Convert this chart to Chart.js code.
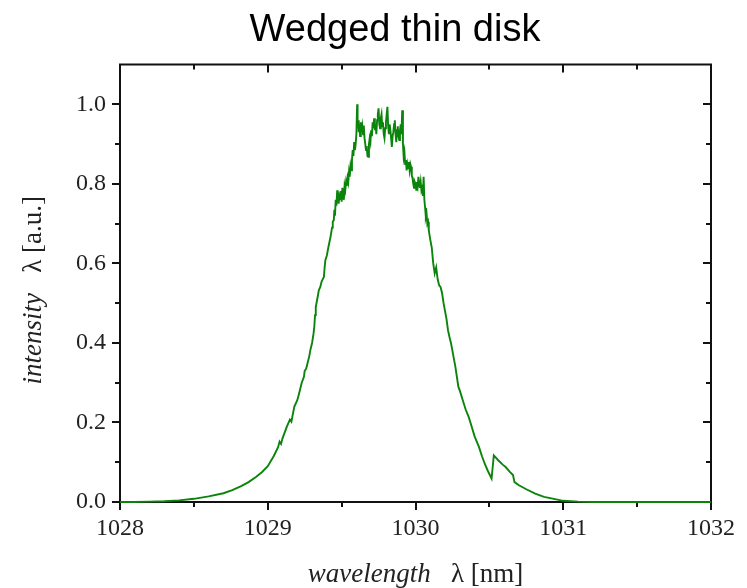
<!DOCTYPE html>
<html>
<head>
<meta charset="utf-8">
<script src="https://cdn.jsdelivr.net/npm/chart.js@4.4.1/dist/chart.umd.min.js"></script>
<style>
  html, body { margin: 0; padding: 0; background: #fff; }
  #wrap { width: 747px; height: 588px; position: relative; }
</style>
</head>
<body>
<div id="wrap"><canvas id="c" width="747" height="588"></canvas></div>
<script>
const chartTitle = 'Wedged thin disk';
const xTitleItalic = 'wavelength';
const xTitleRest = '   λ [nm]';
const yTitleItalic = 'intensity';
const yTitleRest = '   λ [a.u.]';

const xMin = 1028, xMax = 1032, xMajorStep = 1, xMinorStep = 0.5;
const yMin = 0, yMax = 1.1, yMajorStep = 0.2, yMinorStep = 0.1;

// rising edge
const riseWavelength = [
  1028.00, 1028.10, 1028.20, 1028.30, 1028.40, 1028.50, 1028.60, 1028.70, 1028.76, 1028.82,
  1028.87, 1028.92, 1028.96, 1029.00, 1029.04, 1029.07, 1029.08, 1029.09, 1029.10, 1029.13,
  1029.15, 1029.16, 1029.18, 1029.20, 1029.21, 1029.22, 1029.23, 1029.245, 1029.25, 1029.26,
  1029.27, 1029.28, 1029.29, 1029.30, 1029.31, 1029.315, 1029.32, 1029.325, 1029.335, 1029.346,
  1029.355, 1029.365, 1029.38, 1029.385, 1029.39, 1029.40, 1029.41, 1029.425
];
const riseIntensity = [
  0.000, 0.000, 0.001, 0.002, 0.004, 0.008, 0.014, 0.022, 0.030, 0.040,
  0.050, 0.063, 0.075, 0.090, 0.115, 0.138, 0.152, 0.146, 0.160, 0.190,
  0.207, 0.202, 0.240, 0.256, 0.270, 0.285, 0.300, 0.315, 0.330, 0.335,
  0.350, 0.365, 0.385, 0.400, 0.424, 0.440, 0.470, 0.490, 0.510, 0.533,
  0.540, 0.555, 0.566, 0.590, 0.608, 0.620, 0.640, 0.667
];

// noisy top
const peakWavelength = [
  1029.435, 1029.440, 1029.447, 1029.451, 1029.455, 1029.460, 1029.465, 1029.470, 1029.473, 1029.476,
  1029.480, 1029.485, 1029.490, 1029.495, 1029.500, 1029.505, 1029.510, 1029.515, 1029.520, 1029.525,
  1029.530, 1029.535, 1029.540, 1029.545, 1029.550, 1029.555, 1029.560, 1029.565, 1029.570, 1029.575,
  1029.580, 1029.585, 1029.590, 1029.595, 1029.600, 1029.605, 1029.608, 1029.612, 1029.616, 1029.620,
  1029.625, 1029.630, 1029.635, 1029.640, 1029.645, 1029.650, 1029.655, 1029.660, 1029.665, 1029.670,
  1029.675, 1029.680, 1029.685, 1029.690, 1029.695, 1029.700, 1029.705, 1029.710, 1029.715, 1029.720,
  1029.725, 1029.730, 1029.735, 1029.740, 1029.745, 1029.750, 1029.755, 1029.760, 1029.765, 1029.770,
  1029.775, 1029.780, 1029.785, 1029.790, 1029.795, 1029.800, 1029.805, 1029.810, 1029.815, 1029.820,
  1029.825, 1029.830, 1029.835, 1029.840, 1029.845, 1029.850, 1029.855, 1029.860, 1029.865, 1029.870,
  1029.875, 1029.880, 1029.885, 1029.890, 1029.895, 1029.900, 1029.905, 1029.910, 1029.915, 1029.920,
  1029.925, 1029.930, 1029.935, 1029.940, 1029.945, 1029.950, 1029.955, 1029.960, 1029.965, 1029.970,
  1029.975, 1029.980, 1029.985, 1029.990, 1029.995, 1030.000, 1030.005, 1030.010, 1030.015, 1030.020,
  1030.025, 1030.030, 1030.035, 1030.040, 1030.045, 1030.050, 1030.055, 1030.060, 1030.065, 1030.070,
  1030.075, 1030.080, 1030.085, 1030.090
];
const peakIntensity = [
  0.690, 0.705, 0.709, 0.735, 0.720, 0.760, 0.745, 0.784, 0.760, 0.778,
  0.750, 0.770, 0.762, 0.782, 0.755, 0.790, 0.772, 0.760, 0.795, 0.785,
  0.805, 0.795, 0.815, 0.805, 0.830, 0.818, 0.845, 0.834, 0.860, 0.885,
  0.870, 0.905, 0.885, 0.900, 0.925, 1.000, 0.945, 0.960, 0.930, 0.950,
  0.920, 0.955, 0.930, 0.945, 0.925, 0.947, 0.915, 0.900, 0.885, 0.895,
  0.870, 0.868, 0.900, 0.915, 0.905, 0.935, 0.920, 0.955, 0.940, 0.965,
  0.935, 0.950, 0.925, 0.960, 0.975, 0.990, 0.950, 0.940, 0.965, 0.975,
  0.945, 0.955, 0.925, 0.915, 0.940, 0.955, 0.975, 0.994, 0.945, 0.925,
  0.950, 0.935, 0.915, 0.893, 0.920, 0.930, 0.950, 0.960, 0.925, 0.905,
  0.935, 0.945, 0.920, 0.910, 0.935, 0.950, 0.925, 0.985, 0.900, 0.868,
  0.880, 0.850, 0.860, 0.834, 0.850, 0.840, 0.855, 0.835, 0.850, 0.843,
  0.820, 0.815, 0.800, 0.790, 0.805, 0.800, 0.785, 0.805, 0.795, 0.818,
  0.800, 0.790, 0.805, 0.784, 0.790, 0.770, 0.818, 0.760, 0.740, 0.717,
  0.725, 0.700, 0.705, 0.683
];

// falling edge
const fallWavelength = [
  1030.10, 1030.11, 1030.12, 1030.13, 1030.14, 1030.15, 1030.16, 1030.17, 1030.18, 1030.19,
  1030.20, 1030.21, 1030.22, 1030.23, 1030.24, 1030.25, 1030.26, 1030.27, 1030.28, 1030.29,
  1030.30, 1030.32, 1030.34, 1030.36, 1030.38, 1030.40, 1030.43, 1030.45, 1030.47, 1030.49,
  1030.515, 1030.53, 1030.56, 1030.59, 1030.61, 1030.64, 1030.66, 1030.67, 1030.70, 1030.75,
  1030.81, 1030.87, 1030.92, 1031.00, 1031.10, 1031.20, 1031.50, 1032.00
];
const fallIntensity = [
  0.660, 0.640, 0.600, 0.575, 0.590, 0.560, 0.545, 0.540, 0.525, 0.500,
  0.480, 0.460, 0.432, 0.415, 0.400, 0.380, 0.360, 0.340, 0.315, 0.290,
  0.280, 0.256, 0.232, 0.214, 0.190, 0.165, 0.138, 0.115, 0.095, 0.078,
  0.059, 0.117, 0.105, 0.094, 0.088, 0.075, 0.068, 0.050, 0.042, 0.032,
  0.021, 0.013, 0.009, 0.003, 0.001, 0.000, 0.000, 0.000
];

const wavelength = riseWavelength.concat(peakWavelength, fallWavelength);
const intensity = riseIntensity.concat(peakIntensity, fallIntensity);
const points = wavelength.map((w, i) => ({ x: w, y: intensity[i] }));

const serif = '"Liberation Serif", "Times New Roman", serif';
const sans = '"Liberation Sans", Arial, sans-serif';

const framePlugin = {
  id: 'frame',
  beforeDatasetsDraw(chart) {
    const ctx = chart.ctx;
    const { left, right, top, bottom } = chart.chartArea;
    const xs = chart.scales.x, ys = chart.scales.y;
    ctx.save();
    ctx.strokeStyle = '#111';
    ctx.lineWidth = 2;
    ctx.beginPath();
    ctx.rect(left, top, right - left, bottom - top);
    ctx.stroke();
    ctx.beginPath();
    const nx = Math.round((xMax - xMin) / xMinorStep);
    for (let i = 0; i <= nx; i++) {
      const v = xMin + i * xMinorStep;
      const px = Math.round(xs.getPixelForValue(v));
      const major = Math.abs(v / xMajorStep - Math.round(v / xMajorStep)) < 1e-6;
      const len = major ? 8 : 5;
      ctx.moveTo(px, bottom); ctx.lineTo(px, bottom + len);
      ctx.moveTo(px, top); ctx.lineTo(px, top + len);
    }
    const ny = Math.round((1.0 - yMin) / yMinorStep);
    for (let i = 0; i <= ny; i++) {
      const v = yMin + i * yMinorStep;
      const py = Math.round(ys.getPixelForValue(v));
      const major = i % 2 === 0;
      const len = major ? 8 : 5;
      ctx.moveTo(left, py); ctx.lineTo(left - len, py);
      ctx.moveTo(right, py); ctx.lineTo(right - len, py);
    }
    ctx.stroke();
    ctx.restore();
  },
  afterDraw(chart) {
    const ctx = chart.ctx;
    const { left, right, top, bottom } = chart.chartArea;
    ctx.save();
    ctx.fillStyle = '#222';
    ctx.textBaseline = 'alphabetic';
    const fi = 'italic 27px ' + serif, fr = '27px ' + serif;
    ctx.font = fi; const w1 = ctx.measureText(xTitleItalic).width;
    ctx.font = fr; const w2 = ctx.measureText(xTitleRest).width;
    const x0 = (left + right) / 2 - (w1 + w2) / 2;
    const yb = 582;
    ctx.font = fi; ctx.fillText(xTitleItalic, x0, yb);
    ctx.font = fr; ctx.fillText(xTitleRest, x0 + w1, yb);
    ctx.font = fi; const v1 = ctx.measureText(yTitleItalic).width;
    ctx.font = fr; const v2 = ctx.measureText(yTitleRest).width;
    ctx.translate(41, (top + bottom) / 2 + 7);
    ctx.rotate(-Math.PI / 2);
    const s0 = -(v1 + v2) / 2;
    ctx.font = fi; ctx.fillText(yTitleItalic, s0, 0);
    ctx.font = fr; ctx.fillText(yTitleRest, s0 + v1, 0);
    ctx.restore();
  }
};

new Chart(document.getElementById('c'), {
  type: 'line',
  data: {
    datasets: [{
      data: points,
      borderColor: '#0b840b',
      borderWidth: 1.9,
      pointRadius: 0,
      tension: 0,
      fill: false,
      clip: false
    }]
  },
  options: {
    responsive: false,
    animation: false,
    layout: { padding: { left: 76, right: 33, top: 0, bottom: 0 } },
    plugins: {
      legend: { display: false },
      tooltip: { enabled: false },
      title: {
        display: true,
        text: chartTitle,
        color: '#000',
        font: { family: sans, size: 38, weight: 'normal' },
        padding: { top: 8, bottom: 11 }
      }
    },
    scales: {
      x: {
        type: 'linear',
        min: xMin, max: xMax,
        border: { display: false },
        grid: { display: false, drawTicks: false },
        ticks: {
          stepSize: xMajorStep,
          padding: 12,
          color: '#222',
          font: { family: serif, size: 24 },
          maxRotation: 0,
          callback: v => String(v)
        },
        afterFit: s => { s.height = 86; }
      },
      y: {
        type: 'linear',
        min: yMin, max: yMax,
        border: { display: false },
        grid: { display: false, drawTicks: false },
        ticks: {
          stepSize: yMajorStep,
          includeBounds: false,
          padding: 14,
          color: '#222',
          font: { family: serif, size: 24 },
          callback: v => (v > 1.05 ? '' : Number(v).toFixed(1))
        },
        afterFit: s => { s.width = 44; }
      }
    }
  },
  plugins: [framePlugin]
});
</script>
</body>
</html>
